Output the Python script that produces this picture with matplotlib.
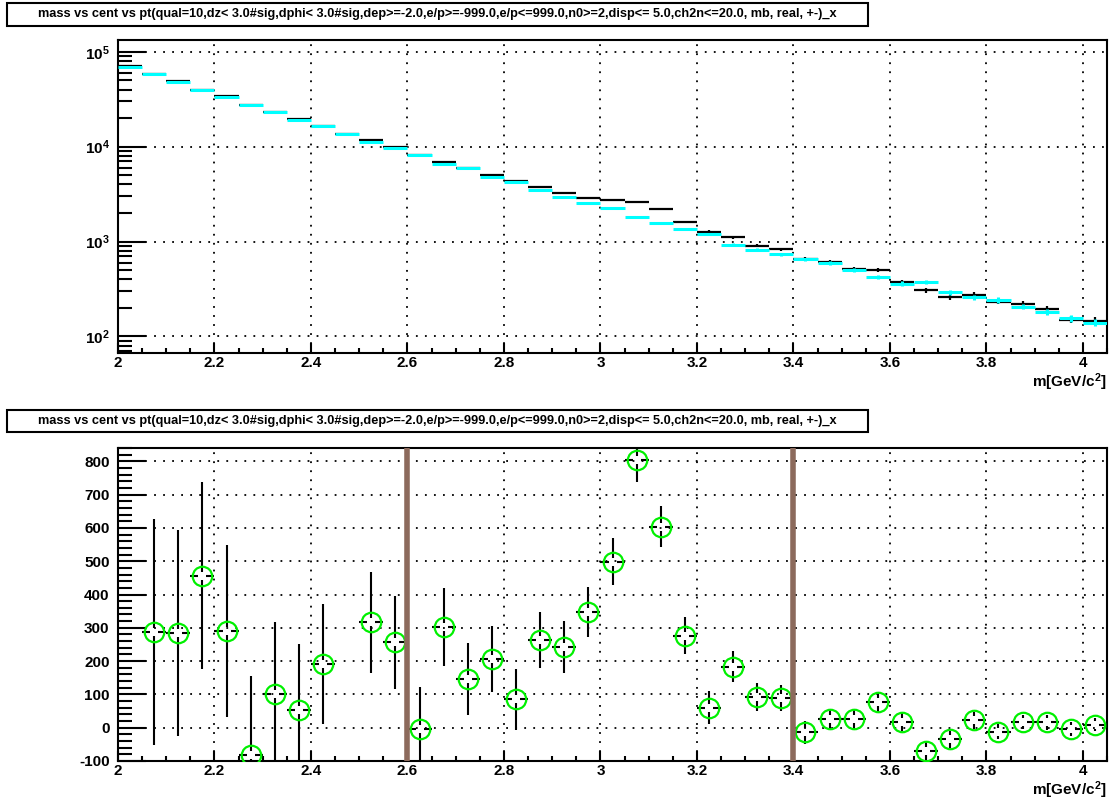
import numpy as np
import matplotlib
matplotlib.use('Agg')
import matplotlib.pyplot as plt
from matplotlib.patches import Rectangle
from matplotlib.collections import LineCollection
from matplotlib.ticker import LogLocator, MultipleLocator, FuncFormatter, NullFormatter

plt.rcParams['font.family'] = ['Liberation Sans', 'DejaVu Sans']
plt.rcParams['font.weight'] = 'bold'
plt.rcParams['mathtext.fontset'] = 'custom'
plt.rcParams['mathtext.rm'] = 'Liberation Sans:bold'
plt.rcParams['mathtext.bf'] = 'Liberation Sans:bold'
plt.rcParams['mathtext.it'] = 'Liberation Sans:bold'

title = ('mass vs cent vs pt(qual=10,dz< 3.0#sig,dphi< 3.0#sig,dep>=-2.0,'
         'e/p>=-999.0,e/p<=999.0,n0>=2,disp<= 5.0,ch2n<=20.0, mb, real, +-)_x')
xlabel = r'm[GeV/c$^{2}$]'

# top panel: two mass spectra, 0.05 GeV/c^2 bins from 2.0 to 4.05
edges = np.linspace(2.0, 4.05, 42)
centers = 0.5 * (edges[:-1] + edges[1:])
half_w = 0.025

black_counts = [70500, 58600, 48600, 40000, 33800, 27800, 23300, 19500, 16600, 13700,
                11800, 9900, 8250, 6900, 5980, 5040, 4380, 3770, 3230, 2900,
                2750, 2600, 2190, 1625, 1275, 1110, 907, 832, 655, 607,
                520, 500, 374, 308, 260, 275, 233, 222, 194, 151, 147]
black_err = [265, 242, 220, 200, 184, 167, 153, 140, 129, 117,
             109, 99, 91, 83, 77, 71, 66, 61, 57, 54,
             52, 51, 47, 40, 36, 33, 30, 29, 26, 25,
             23, 22, 19, 18, 16, 17, 15, 15, 14, 12, 12]
cyan_counts = [69500, 57800, 48000, 39500, 33400, 27500, 23000, 19200, 16400, 13500,
               11300, 9750, 8180, 6630, 5910, 4830, 4250, 3520, 2980, 2530,
               2250, 1810, 1585, 1370, 1205, 930, 825, 737, 653, 593,
               503, 422, 361, 379, 293, 258, 243, 207, 182, 155, 140]
cyan_err = [264, 240, 219, 199, 183, 166, 152, 139, 128, 116,
            106, 99, 90, 81, 77, 69, 65, 59, 55, 50,
            47, 43, 40, 37, 35, 30, 29, 27, 26, 24,
            22, 21, 19, 19, 17, 16, 16, 14, 13, 12, 12]

# bottom panel: difference spectrum
diff_x = [2.075, 2.125, 2.175, 2.225, 2.275, 2.325, 2.375, 2.425, 2.525, 2.575,
          2.625, 2.675, 2.725, 2.775, 2.825, 2.875, 2.925, 2.975, 3.025, 3.075,
          3.125, 3.175, 3.225, 3.275, 3.325, 3.375, 3.425, 3.475, 3.525, 3.575,
          3.625, 3.675, 3.725, 3.775, 3.825, 3.875, 3.925, 3.975, 4.025]
diff_y = [287, 285, 457, 290, -83, 102, 54, 192, 317, 256,
          -5, 303, 147, 206, 85, 263, 242, 348, 499, 803,
          604, 276, 60, 183, 92, 89, -14, 25, 27, 77,
          17, -71, -35, 22, -12, 17, 16, -4, 9]
diff_err = [340, 310, 282, 259, 238, 216, 198, 180, 152, 140,
            128, 117, 108, 100, 92, 85, 78, 75, 70, 66,
            61, 55, 50, 46, 42, 38, 34, 32, 30, 29,
            28, 27, 25, 25, 23, 22, 22, 20, 20]
window = [2.6, 3.4]

W, H = 1111, 800
fig = plt.figure(figsize=(W / 100, H / 100), dpi=100)
fig.patch.set_facecolor('white')

def px_axes(left, top, right, bottom):
    return fig.add_axes([left / W, 1 - bottom / H, (right - left) / W, (bottom - top) / H])

def title_box(top, bottom):
    fig.patches.append(Rectangle((7 / W, 1 - bottom / H), (868 - 7) / W, (bottom - top) / H,
                                 transform=fig.transFigure, facecolor='white',
                                 edgecolor='black', lw=1.5, zorder=5))
    fig.text((7 + 868) / 2 / W, 1 - (top + bottom) / 2 / H, title, ha='center', va='center',
             fontsize=9.2, fontweight='bold', zorder=6)

def style_axes(ax):
    for s in ax.spines.values():
        s.set_linewidth(1.5)
    ax.tick_params(axis='both', which='both', direction='in', top=False, right=False,
                   width=1.5, labelsize=11)
    ax.tick_params(axis='y', which='major', length=20, pad=6)
    ax.tick_params(axis='y', which='minor', length=10)
    ax.tick_params(axis='x', which='major', length=7, pad=2)
    ax.tick_params(axis='x', which='minor', length=3.6)
    ax.xaxis.set_major_locator(MultipleLocator(0.2))
    ax.xaxis.set_minor_locator(MultipleLocator(0.05))
    ax.xaxis.set_major_formatter(FuncFormatter(lambda v, p: '%g' % round(v, 2)))
    ax.set_xlim(2.0, 4.05)
    ax.grid(True, which='major', color='black', linestyle=(0, (1, 4)), linewidth=1.3)
    ax.set_xlabel(xlabel, loc='right', fontsize=11, fontweight='bold', labelpad=1)
    for lab in ax.get_xticklabels() + ax.get_yticklabels():
        lab.set_fontweight('bold')

# ---- top panel
ax1 = px_axes(118, 40, 1107, 353)
ax1.set_yscale('log')
ax1.errorbar(centers, black_counts, yerr=black_err, xerr=half_w, fmt='none',
             ecolor='black', elinewidth=1.6, capsize=0, zorder=3)
ax1.errorbar(centers, cyan_counts, yerr=cyan_err, xerr=half_w, fmt='none',
             ecolor='#00ffff', elinewidth=2.2, capsize=0, zorder=4)
ax1.set_ylim(67, 1.33e5)
ax1.yaxis.set_major_locator(LogLocator(base=10, numticks=10))
ax1.yaxis.set_minor_locator(LogLocator(base=10, subs=np.arange(2, 10), numticks=20))
ax1.yaxis.set_major_formatter(FuncFormatter(lambda v, p: r'$\mathbf{10^{%d}}$' % round(np.log10(v))))
ax1.yaxis.set_minor_formatter(NullFormatter())
style_axes(ax1)

# ---- bottom panel
ax2 = px_axes(118, 448, 1107, 761)
ax2.set_ylim(-100, 840)
# error bars with a small gap around the marker centre (ROOT style)
gap_px = 4.0
ax_w_px = (1107 - 118)
ax_h_px = (761 - 448)
gx = gap_px * (4.05 - 2.0) / ax_w_px
gy = gap_px * (840 - (-100)) / ax_h_px
segs = []
for xv, yv, ev in zip(diff_x, diff_y, diff_err):
    if ev > gy:
        segs.append([(xv, yv + gy), (xv, yv + ev)])
        segs.append([(xv, yv - gy), (xv, yv - ev)])
    segs.append([(xv - half_w, yv), (xv - gx, yv)])
    segs.append([(xv + gx, yv), (xv + half_w, yv)])
ax2.add_collection(LineCollection(segs, colors='black', linewidths=1.5, zorder=3))
ax2.plot(diff_x, diff_y, linestyle='none', marker='o', markersize=14,
         markerfacecolor='none', markeredgecolor='#00f000', markeredgewidth=1.6, zorder=4)
for xv in window:
    ax2.axvline(xv, color='#8c6a5c', lw=4, zorder=5)
ax2.yaxis.set_major_locator(MultipleLocator(100))
ax2.yaxis.set_minor_locator(MultipleLocator(20))
ax2.yaxis.set_major_formatter(FuncFormatter(lambda v, p: '%d' % round(v)))
style_axes(ax2)
ax2.set_ylim(-100, 840)

title_box(3, 26)
title_box(410, 432)

fig.savefig('out.png', dpi=100, facecolor='white')
